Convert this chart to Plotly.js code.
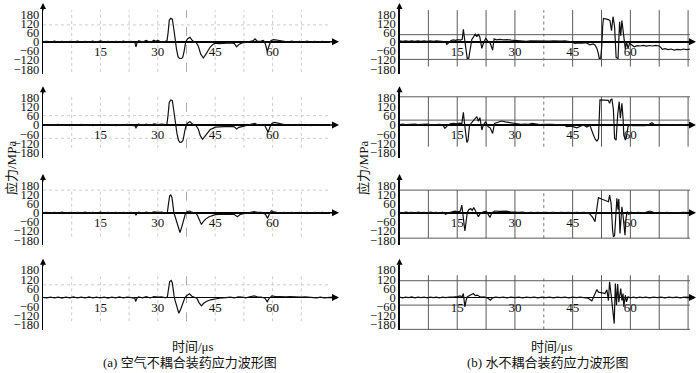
<!DOCTYPE html>
<html><head><meta charset="utf-8">
<script src="https://cdn.plot.ly/plotly-3.0.1.min.js"></script>
<style>html,body{margin:0;padding:0;background:#fff}#chart{width:700px;height:373px}</style>
</head><body><div id="chart"></div>
<script>
// ---------------- DATA (time in μs, stress in MPa) ----------------
const yTickVals = [180, 120, 60, 0, -60, -120, -180];
const yTickText = ['180', '120', '60', '0', '\u221260', '\u2212120', '\u2212180'];
const xTickVals = [15, 30, 45, 60];
const xTickText = ['15', '30', '45', '60'];

// (a) air-decoupled charge, gauges 1-4: [time, stress]
const air1 = [[0,0],[1,3],[2,-2],[3,4],[4,-3],[5,2],[6,-4],[7,3],[8,-2],[9,4],[10,-3],[11,2],[12,-3],[13,4],[14,-2],[15,5],[16,-3],[17,2],[18,-4],[19,3],[20,-2],[21,4],[22,-3],[23,2],[24,-5],[24.3,-33],[24.6,-4],[25,6],[26,-3],[27,8],[28,-5],[29,10],[29.4,3],[30,8],[31,-4],[32,4],[32.4,5],[32.7,60],[33.0,140],[33.4,153],[33.8,148],[34.2,80],[34.5,5],[34.9,-50],[35.3,-100],[35.7,-109],[36.1,-110],[36.5,-105],[36.9,-60],[37.3,0],[37.8,20],[38.4,29],[38.9,12],[39.4,0],[40.0,-5],[40.6,-30],[41.2,-80],[41.9,-107],[42.5,-85],[43.1,-55],[43.7,-35],[44.4,-18],[45,-10],[46,-12],[47,-10],[48,-11],[49,-8],[50,-12],[50.6,-33],[51.2,-18],[52,-8],[53,-5],[54,2],[55,8],[55.4,18],[56,3],[57,4],[57.6,8],[58.1,-15],[58.6,-62],[59.1,-25],[59.6,8],[60.3,14],[61,12],[62,5],[63,3],[64,-2],[65,4],[66,-3],[67,3],[68,-2],[69,4],[70,-3],[71,2],[72,-3],[73,3],[74,-2],[75,0]];
const air2 = [[0,0],[1,-3],[2,3],[3,-2],[4,4],[5,-3],[6,2],[7,-4],[8,3],[9,-2],[10,4],[11,-3],[12,2],[13,-4],[14,3],[15,-2],[16,4],[17,-3],[18,2],[19,-4],[20,3],[21,-2],[22,4],[23,-3],[24,-4],[24.3,-18],[24.7,-3],[25,5],[26,-2],[27,6],[28,-4],[29,8],[30,3],[31,6],[32,2],[32.4,6],[32.7,70],[33.0,150],[33.4,164],[33.8,160],[34.2,90],[34.6,5],[35.0,-55],[35.4,-100],[35.8,-114],[36.2,-113],[36.6,-100],[37.0,-45],[37.4,0],[37.9,15],[38.4,22],[38.9,10],[39.4,0],[40.0,-5],[40.6,-28],[41.1,-70],[41.7,-94],[42.3,-75],[43.0,-48],[43.7,-30],[44.4,-22],[45,-14],[46,-12],[47,-10],[48,-11],[49,-9],[50,-12],[50.6,-26],[51.2,-15],[52,-8],[53,-4],[54,3],[55,6],[55.4,10],[56,2],[57,4],[57.8,3],[58.3,-20],[58.8,-48],[59.3,-15],[59.8,10],[60.5,17],[61.2,14],[62,6],[63,2],[64,-3],[65,3],[66,-2],[67,4],[68,-3],[69,2],[70,-4],[71,3],[72,-2],[73,3],[74,-3],[75,0]];
const air3 = [[0,0],[1,2],[2,-3],[3,3],[4,-2],[5,4],[6,-3],[7,2],[8,-4],[9,3],[10,-2],[11,4],[12,-3],[13,2],[14,-3],[15,4],[16,-2],[17,3],[18,-3],[19,2],[20,-4],[21,3],[22,-2],[23,3],[24,-3],[24.3,-15],[24.7,-2],[25,3],[26,-2],[27,4],[28,-3],[29,5],[30,2],[31,4],[32,-2],[32.5,3],[32.8,60],[33.1,110],[33.4,116],[33.7,100],[34.0,40],[34.2,0],[34.7,-40],[35.2,-90],[35.8,-131],[36.3,-90],[36.8,-40],[37.3,0],[37.8,8],[38.3,11],[38.8,4],[39.4,0],[40.0,-3],[40.4,-20],[40.9,-55],[41.4,-77],[41.9,-58],[42.5,-42],[43.3,-28],[44.3,-18],[45,-13],[46,-11],[47,-12],[48,-10],[49,-11],[49.8,-9],[50.8,-26],[51.5,-12],[52.5,-8],[53.5,-2],[54.5,4],[55.2,7],[56,3],[57,2],[58.1,-10],[58.7,-37],[59.2,-5],[59.7,13],[60.3,5],[61,2],[62,-2],[63,3],[64,-3],[65,2],[66,-2],[67,3],[68,-3],[69,2],[70,-2],[71,3],[72,-3],[73,2],[74,-2],[75,0]];
const air4 = [[0,0],[1,-2],[2,3],[3,-3],[4,2],[5,-4],[6,3],[7,-2],[8,4],[9,-3],[10,2],[11,-3],[12,4],[13,-2],[14,3],[15,-3],[16,2],[17,-4],[18,3],[19,-2],[20,4],[21,-3],[22,2],[23,-3],[24,-4],[24.2,-26],[24.6,-3],[25,4],[26,-2],[27,5],[28,-3],[29,6],[30,3],[31,5],[32,-2],[32.5,4],[32.8,55],[33.1,105],[33.5,112],[33.8,95],[34.1,40],[34.3,0],[34.7,-35],[35.1,-80],[35.5,-103],[36.0,-75],[36.6,-30],[37.1,0],[37.7,15],[38.3,24],[38.9,8],[39.5,0],[40.2,-5],[40.8,-35],[41.4,-55],[42.0,-38],[42.8,-25],[43.8,-15],[45,-8],[46,-5],[47,-3],[48,0],[49,2],[50,-3],[51,4],[52,2],[53,-2],[54,5],[55.2,11],[56,4],[57,3],[58,-5],[58.6,-28],[59.1,-5],[59.8,11],[60.5,8],[61.5,6],[62.5,7],[63.5,5],[64.5,6],[65.5,4],[66.5,5],[67.5,3],[68.5,4],[69.5,2],[70.5,3],[71.5,-2],[72.5,2],[73.5,-2],[75,0]];

// (b) water-decoupled charge, gauges 1-4: [time, stress]
const water1 = [[0,5],[0.8,2],[1.6,6],[2.4,3],[3.2,5],[4,2],[4.8,6],[5.6,3],[6.4,5],[7.2,2],[8,6],[8.8,3],[9.6,5],[10.4,2],[11.2,4],[12,0],[12.3,-18],[12.8,-5],[13.4,8],[14,12],[14.6,9],[15.2,14],[15.8,10],[16.3,15],[16.6,81],[16.9,20],[17.3,-60],[17.6,-110],[18.0,-108],[18.4,-30],[18.8,15],[19.2,30],[19.7,50],[20.1,32],[20.5,50],[20.9,28],[21.4,-44],[21.8,-10],[22.4,22],[22.9,5],[23.6,-10],[24.2,-55],[24.6,18],[25.2,12],[26,15],[27,12],[28,14],[29,10],[30,8],[31,5],[32,6],[33,3],[34,5],[35,4],[36,6],[37,3],[38,5],[39,4],[40,6],[41,3],[42,4],[43,5],[44,2],[45,-3],[45.5,-11],[46.5,-8],[47.5,-10],[48.5,-7],[49.5,-20],[50.3,-15],[50.8,-22],[51.3,-44],[51.7,-80],[51.9,-110],[52.3,-108],[52.6,-20],[52.8,100],[53.0,153],[53.5,150],[54.0,148],[54.3,145],[54.7,138],[55.1,72],[55.5,164],[55.9,98],[56.3,-103],[56.8,-110],[57.2,131],[57.5,40],[57.8,138],[58.2,55],[58.4,0],[58.7,-50],[59.0,0],[59.4,-44],[59.8,-10],[60.3,-20],[61,-33],[61.8,-26],[62.6,-28],[63.4,-24],[64.2,-29],[65,-25],[65.8,-28],[66.6,-24],[67.5,-28],[68.0,-40],[68.3,-50],[69,-46],[69.8,-52],[70.6,-48],[71.4,-55],[72.2,-50],[73,-53],[73.8,-48],[74.6,-52],[75.5,-48]];
const water2 = [[0,3],[0.8,6],[1.6,2],[2.4,5],[3.2,3],[4,6],[4.8,2],[5.6,5],[6.4,3],[7.2,6],[8,2],[8.8,5],[9.6,3],[10.4,5],[11.2,2],[11.8,-22],[12.4,-5],[13.2,8],[14,10],[14.8,7],[15.6,12],[16.2,10],[16.6,83],[16.9,10],[17.2,-60],[17.5,-114],[17.8,-100],[18.2,0],[18.6,11],[19.3,33],[20.1,55],[20.5,25],[20.9,48],[21.4,-33],[21.8,0],[22.4,22],[23.0,-10],[23.6,-20],[24.2,-55],[24.7,10],[25.5,18],[26.5,26],[27.5,20],[28.5,15],[29.5,12],[30.5,8],[31.5,5],[32.5,6],[33.5,4],[34.5,11],[35.5,5],[36.5,3],[37.5,5],[38.5,2],[39.5,4],[40.5,3],[41.5,2],[42.5,3],[43.5,-11],[44.5,-8],[45.3,-12],[46.1,-18],[47,-8],[47.8,0],[48.7,-14],[49.5,-2],[50.4,-66],[50.9,-95],[51.3,-105],[51.7,-90],[52.1,164],[53,164],[54,164],[54.3,162],[54.6,142],[54.9,165],[55.2,171],[55.6,100],[55.9,-88],[56.3,-99],[56.7,66],[57.1,153],[57.4,44],[57.8,142],[58.1,44],[58.3,-66],[58.7,-99],[59.0,-77],[59.4,-10],[59.8,0],[60.5,-4],[61.5,-6],[62.5,-3],[63.5,-5],[64.5,-2],[65.1,8],[65.6,15],[66.2,3],[67,0],[68,2],[69,-2],[70,3],[71,0],[72,2],[73,-2],[74,1],[74.7,0]];
const water3 = [[0,3],[0.8,-2],[1.6,4],[2.4,0],[3.2,3],[4,-2],[4.8,4],[5.6,0],[6.4,3],[7.2,-2],[8,4],[8.8,0],[9.6,3],[10.4,-2],[11.2,3],[12,-10],[12.8,0],[13.6,6],[14.4,10],[15.2,5],[15.8,10],[16.2,50],[16.5,0],[16.8,-80],[17.0,-120],[17.3,-59],[17.6,0],[18.0,20],[18.5,28],[18.9,15],[19.3,33],[19.8,10],[20.5,-26],[21,-5],[21.8,5],[22.6,8],[23.5,-31],[24,0],[24.8,11],[25.8,9],[26.8,12],[27.8,10],[28.8,5],[29.8,3],[31,2],[32,4],[33,-1],[34,3],[35,0],[36,2],[37,-1],[38,3],[39,0],[40,2],[41,-1],[42,3],[43,0],[44,2],[45,-1],[46,3],[47,0],[48,2],[49,-2],[49.5,-10],[50.2,-30],[50.8,-59],[51.2,20],[51.7,99],[52.5,90],[53.3,83],[54.0,75],[54.3,72],[54.6,116],[55.0,60],[55.4,-120],[55.6,-158],[55.9,-150],[56.2,20],[56.5,94],[56.8,20],[57.0,90],[57.3,-136],[57.5,-60],[57.8,39],[58.1,-20],[58.6,-147],[58.9,-30],[59.2,7],[59.6,-10],[60.2,3],[61,-2],[62,2],[63,-1],[64,2],[65.1,11],[65.8,3],[66.5,-2],[67.5,2],[68.5,-1],[69.5,2],[70.5,-2],[71.5,1],[72.5,-2],[73.5,2],[74.5,-1],[75.2,0]];
const water4 = [[0,2],[0.8,-2],[1.6,3],[2.4,-1],[3.2,4],[4,-2],[4.8,2],[5.6,-1],[6.4,3],[7.2,-2],[8,2],[8.8,-1],[9.6,3],[10.4,-2],[11.2,2],[12,-1],[13,3],[14,2],[15,6],[15.8,10],[16.3,4],[16.6,26],[16.8,-20],[17.0,-61],[17.3,-20],[17.6,4],[18.1,11],[18.7,18],[19.2,26],[19.7,12],[20.2,16],[20.7,8],[21.2,2],[22,4],[23,-5],[23.6,-18],[24.2,-2],[25,3],[26,-1],[27,2],[28,-2],[29,3],[30,-1],[31,2],[32,-2],[33,2],[34,-1],[35,3],[36,-2],[37,2],[38,-1],[39,3],[40,-2],[41,2],[42,-1],[43,3],[44,-2],[45,2],[46,-1],[47,3],[48,-3],[49,-5],[50,-22],[50.6,10],[51.3,53],[51.7,35],[52.1,31],[52.7,30],[53.4,26],[53.9,50],[54.3,-20],[54.6,103],[55.0,20],[55.2,-40],[55.6,-160],[55.8,-171],[56.1,92],[56.4,-50],[56.7,88],[57.0,-30],[57.5,59],[57.8,-20],[58.1,26],[58.3,-61],[58.7,15],[59.0,-28],[59.4,5],[60,-2],[60.8,3],[61.6,-2],[62.4,2],[63.2,-1],[64,3],[65,-2],[66,2],[67,-1],[68,3],[69,-2],[70,2],[71,-1],[72,3],[73,-2],[74,2],[75.2,0]];

// ---------------- STYLE / GEOMETRY ----------------
const W = 700, H = 373;
const SERIF = 'Liberation Serif';
const CJK = 'Liberation Serif, Noto Sans CJK SC';
const cols = [
  {x0: 43, x1: 330, xmax: 75, arrowTip: 339, gridColor: '#cccccc', gridDash: 'dot', hColor: '#cccccc', hDash: 'dot', midDash: 'dash', midColor: '#aaaaaa'},
  {x0: 399.5, x1: 690, xmax: 75.5, arrowTip: 696, gridColor: '#5a5a5a', gridDash: 'solid', hColor: '#5a5a5a', hDash: 'solid', midDash: 'dot', midColor: '#777777'}
];
const rowZero = [41.7, 125, 212.7, 297.5];
const YR = 215, pxPerUnit = 9.15 / 60, halfPx = YR * pxPerUnit;

// per panel grid extents (in stress units)
const panels = [
  {data: air1, col: 0, row: 0, vLo: -198, vHi: 207, h: [110]},
  {data: air2, col: 0, row: 1, vLo: -150, vHi: 196, h: [61, -87]},
  {data: air3, col: 0, row: 2, vLo: -157, vHi: 148, h: [148]},
  {data: air4, col: 0, row: 3, vLo: -156, vHi: 160, h: [83]},
  {data: water1, col: 1, row: 0, vLo: -163, vHi: 207, h: [46, -116]},
  {data: water2, col: 1, row: 1, vLo: -142, vHi: 185, h: [185, 32]},
  {data: water3, col: 1, row: 2, vLo: -167, vHi: 148, h: [148, -167]},
  {data: water4, col: 1, row: 3, vLo: -209, vHi: 146, h: [110, -50, -209]}
];

const px2x = p => p / W;
const py2y = p => 1 - p / H;

const traces = [], shapes = [], annotations = [];
const layout = {
  width: W, height: H,
  margin: {l: 0, r: 0, t: 0, b: 0},
  paper_bgcolor: '#fff', plot_bgcolor: 'rgba(0,0,0,0)',
  font: {family: SERIF},
  showlegend: false, shapes, annotations
};

panels.forEach((p, i) => {
  const n = i + 1;
  const xa = n === 1 ? 'x' : 'x' + n, ya = n === 1 ? 'y' : 'y' + n;
  const c = cols[p.col];
  const z = rowZero[p.row];
  const yTop = z - halfPx, yBot = z + halfPx;
  layout[n === 1 ? 'xaxis' : 'xaxis' + n] = {
    domain: [px2x(c.x0), px2x(c.x1)], range: [0, c.xmax], anchor: 'free', position: py2y(z),
    showgrid: false, zeroline: false, showline: false, ticks: '',
    tickmode: 'array', tickvals: xTickVals, ticktext: xTickText,
    tickfont: {family: SERIF, size: 13, color: '#111'}, fixedrange: true
  };
  layout[n === 1 ? 'yaxis' : 'yaxis' + n] = {
    domain: [py2y(yBot), py2y(yTop)], range: [-YR, YR], anchor: xa,
    showgrid: false, zeroline: true, zerolinecolor: '#000', zerolinewidth: 1.8,
    showline: true, linecolor: '#000', linewidth: 1.2, ticks: '',
    tickmode: 'array', tickvals: yTickVals, ticktext: yTickText,
    tickfont: {family: SERIF, size: 12.5, color: '#111'}, fixedrange: true
  };
  traces.push({
    x: p.data.map(d => d[0]), y: p.data.map(d => d[1]),
    xaxis: xa, yaxis: ya, type: 'scatter', mode: 'lines',
    line: {color: '#111', width: 1.2}, hoverinfo: 'skip'
  });
  // vertical grid lines
  for (let k = 1; k * 7.5 < c.xmax; k++) {
    const xv = k * 7.5;
    const mid = k === 5;
    shapes.push({type: 'line', layer: 'below', xref: xa, yref: ya, x0: xv, x1: xv, y0: p.vLo, y1: p.vHi,
      line: {color: mid ? c.midColor : c.gridColor, width: 1, dash: mid ? c.midDash : c.gridDash}});
  }
  // horizontal grid lines
  p.h.forEach(hv => {
    shapes.push({type: 'line', layer: 'below', xref: xa, yref: ya, x0: 0, x1: c.xmax, y0: hv, y1: hv,
      line: {color: c.hColor, width: 1, dash: c.hDash}});
  });
  // axis arrows
  annotations.push({xref: 'paper', yref: 'paper', x: px2x(c.arrowTip), y: py2y(z), ax: -12, ay: 0,
    text: '', showarrow: true, arrowhead: 2, arrowsize: 1, arrowwidth: 1.4, arrowcolor: '#000'});
  annotations.push({xref: 'paper', yref: 'paper', x: px2x(c.x0), y: py2y(yTop - 6), ax: 0, ay: 9,
    text: '', showarrow: true, arrowhead: 2, arrowsize: 1, arrowwidth: 1.2, arrowcolor: '#000'});
});

// titles
const txt = (text, x, y, extra) => Object.assign({xref: 'paper', yref: 'paper', x: px2x(x), y: py2y(y),
  text, showarrow: false, xanchor: 'center', yanchor: 'middle', font: {family: CJK, size: 13, color: '#111'}}, extra || {});
annotations.push(txt('应力/MPa', 11, 168, {textangle: -90}));
annotations.push(txt('应力/MPa', 363, 168, {textangle: -90}));
annotations.push(txt('时间/μs', 193, 346));
annotations.push(txt('时间/μs', 552, 346));
annotations.push(txt('(a) 空气不耦合装药应力波形图', 190, 362));
annotations.push(txt('(b) 水不耦合装药应力波形图', 547, 362));

Plotly.newPlot('chart', traces, layout, {staticPlot: true, displayModeBar: false});
</script></body></html>
